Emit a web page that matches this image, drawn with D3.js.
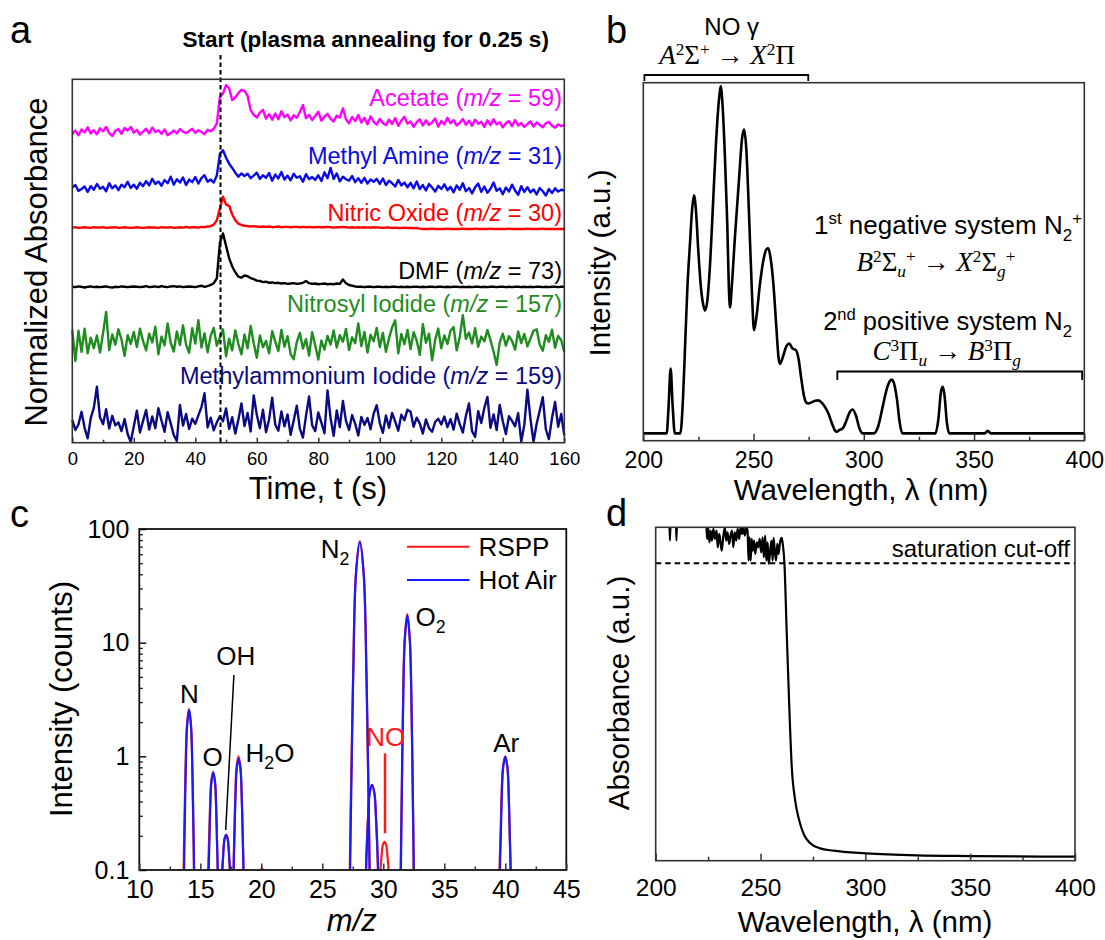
<!DOCTYPE html>
<html>
<head>
<meta charset="utf-8">
<script src="https://cdn.jsdelivr.net/npm/d3@7"></script>
<style>
  body { margin: 0; background: #fff; }
  svg { display: block; }
</style>
</head>
<body>
<svg id="fig" width="1105" height="940"></svg>
<script>
// ---------------- Panel a: time traces (one value per second, 0-160 s) ----------------
const traceNames = ["Acetate", "Methyl Amine", "Nitric Oxide", "DMF", "Nitrosyl Iodide", "Methylammonium Iodide"];
const traceMz = [59, 31, 30, 73, 157, 159];
const traceColors = ["#ff00ff", "#0a0ae6", "#ff0000", "#000000", "#1e8c1e", "#0a0a82"];

const acetate = [
  85.0, 85.9, 84.6, 86.2, 85.4, 86.8, 85.1, 86.0, 84.9, 86.5,
  85.7, 86.9, 85.2, 84.4, 85.8, 86.3, 85.0, 86.6, 85.9, 86.9,
  85.3, 86.1, 84.8, 85.6, 86.4, 85.1, 86.7, 85.5, 86.0, 85.0,
  86.2, 84.6, 85.2, 85.9, 85.1, 86.3, 85.6, 85.2, 85.8, 86.4,
  85.3, 86.0, 85.5, 84.9, 86.1, 85.7, 86.4, 87.8, 95.2, 96.1,
  98.4, 97.5, 94.3, 95.0, 96.2, 97.1, 96.8, 95.5, 91.5, 90.2,
  89.5, 90.8, 91.6, 89.2, 90.4, 88.9, 90.6, 89.0, 91.2, 89.6,
  90.3, 88.7, 90.1, 89.4, 91.0, 92.9, 89.3, 90.2, 88.8, 89.9,
  91.1, 88.6, 89.7, 90.5, 89.1, 88.4, 90.0, 89.5, 92.0, 89.0,
  87.9, 89.6, 88.5, 90.2, 88.1, 89.4, 87.6, 89.8, 88.3, 87.5,
  89.1, 88.0, 87.4, 88.9, 87.7, 89.3, 87.2, 88.6, 89.7, 87.8,
  88.4, 86.9, 88.2, 89.0, 87.3, 88.7, 87.5, 88.1, 89.2, 87.0,
  88.5, 87.6, 89.4, 87.9, 88.8, 87.3, 88.0, 89.1, 87.5, 88.6,
  87.2, 88.9, 87.8, 88.3, 86.9, 88.7, 87.4, 89.0, 87.6, 88.2,
  86.8, 87.9, 88.5, 87.1, 88.8, 87.3, 88.0, 86.9, 87.7, 88.4,
  87.0, 88.1, 87.5, 86.8, 87.9, 88.3, 87.2, 86.7, 87.6, 87.1,
  87.4
];
const methylAmine = [
  70.2, 70.9, 69.3, 69.8, 70.5, 69.0, 70.6, 69.6, 71.2, 69.9,
  70.4, 69.2, 71.4, 70.0, 70.8, 69.5, 71.0, 70.3, 71.8, 70.1,
  71.0, 69.9, 71.5, 70.6, 72.0, 70.8, 72.6, 71.2, 71.9, 70.7,
  72.3, 71.4, 73.2, 71.0, 72.5, 71.6, 73.0, 70.9, 72.4, 71.7,
  73.1, 71.3, 72.8, 73.6, 71.8, 72.4, 71.6, 73.5, 79.5, 80.5,
  78.4, 76.8, 75.6, 74.3, 73.2, 74.1, 73.4, 74.0, 72.8, 73.5,
  74.3, 72.6, 73.6, 72.9, 74.2, 72.1, 73.8, 72.7, 74.5, 72.4,
  73.5, 72.2, 74.0, 72.9, 73.3, 71.8, 73.9, 72.5, 73.1, 72.3,
  73.6, 72.0, 74.4, 72.8, 75.6, 72.6, 74.1, 71.9, 73.2, 72.5,
  72.1, 73.4, 71.7, 72.8, 71.5, 72.9, 71.3, 72.4, 71.8, 72.6,
  71.2, 72.7, 70.9, 72.1, 71.4, 70.5, 72.3, 70.8, 71.6, 70.3,
  71.5, 70.0, 71.9, 69.8, 70.9, 69.4, 71.2, 70.2, 69.1, 70.7,
  69.8, 71.1, 69.5, 70.4, 68.9, 70.8, 69.6, 71.4, 69.2, 70.1,
  68.6, 70.3, 71.3, 69.0, 70.5, 68.8, 69.9, 71.6, 69.3, 70.0,
  68.4, 70.2, 69.1, 71.0, 69.4, 68.2, 70.6, 69.0, 70.3, 68.9,
  69.7, 68.3, 70.1, 69.2, 68.0, 69.8, 68.7, 70.0, 69.1, 69.6,
  69.4
];
const nitricOxide = [
  59.2, 59.3, 59.1, 59.2, 59.3, 59.2, 59.1, 59.3, 59.2, 59.2,
  59.3, 59.1, 59.2, 59.2, 59.3, 59.1, 59.2, 59.3, 59.2, 59.1,
  59.2, 59.3, 59.2, 59.1, 59.2, 59.3, 59.2, 59.2, 59.1, 59.3,
  59.2, 59.2, 59.3, 59.1, 59.2, 59.3, 59.2, 59.4, 59.2, 59.3,
  59.3, 59.2, 59.4, 59.3, 59.5, 59.6, 60.0, 61.2, 64.5, 67.7,
  65.5, 65.2, 62.8, 61.2, 60.3, 59.9, 59.7, 59.6, 59.5, 59.6,
  59.5, 59.4, 59.5, 59.4, 59.5, 59.3, 59.4, 59.5, 59.3, 59.4,
  59.4, 59.3, 59.4, 59.4, 59.3, 59.4, 59.3, 59.4, 59.3, 59.3,
  59.4, 59.3, 59.3, 59.4, 59.3, 59.2, 59.3, 59.3, 59.4, 59.3,
  59.2, 59.3, 59.2, 59.3, 59.2, 59.3, 59.2, 59.2, 59.3, 59.2,
  59.2, 59.1, 59.2, 59.2, 59.1, 59.2, 59.1, 59.1, 59.2, 59.1,
  59.1, 59.0, 59.1, 58.9, 58.8, 58.8, 58.8, 58.9, 58.8, 58.8,
  58.8, 58.8, 58.9, 58.8, 58.8, 58.8, 58.8, 58.9, 58.8, 58.8,
  58.8, 58.9, 58.8, 58.8, 58.8, 58.8, 58.9, 58.8, 58.8, 58.8,
  58.8, 58.8, 58.9, 58.8, 58.8, 58.8, 58.8, 58.8, 58.9, 58.8,
  58.8, 58.8, 58.8, 58.9, 58.8, 58.8, 58.8, 58.8, 58.8, 58.8,
  58.8
];
const dmf = [
  42.9, 42.8, 43.0, 42.9, 42.7, 42.9, 43.0, 42.8, 42.9, 42.8,
  42.9, 43.0, 42.8, 42.7, 42.9, 42.8, 43.0, 42.9, 42.8, 42.9,
  43.0, 42.9, 42.8, 42.9, 43.1, 42.8, 42.9, 43.0, 42.8, 43.1,
  42.9, 42.8, 43.0, 43.1, 42.9, 43.0, 42.8, 42.9, 43.0, 42.9,
  42.8, 43.0, 43.2, 42.9, 43.1, 43.4, 43.9, 45.2, 55.0, 57.6,
  54.2, 50.8, 48.5, 46.9, 45.7, 45.4, 46.0, 45.8, 45.3, 45.0,
  44.6, 44.5, 44.2, 44.3, 44.0, 44.1, 43.9, 44.0, 43.8, 43.9,
  43.7, 43.8, 43.9, 43.7, 43.8, 44.0, 44.5, 43.9, 43.7, 43.8,
  43.6, 43.7, 43.8, 43.6, 43.7, 43.6, 43.8, 43.7, 44.9, 43.9,
  43.4, 43.2, 43.0, 42.9, 42.9, 42.8, 42.9, 42.9, 42.8, 42.9,
  42.9, 42.8, 42.9, 42.8, 42.9, 42.9, 42.8, 42.9, 42.8, 42.9,
  42.8, 42.9, 42.9, 42.8, 42.9, 42.8, 42.9, 42.9, 42.8, 42.9,
  42.9, 42.8, 42.9, 42.8, 42.9, 42.9, 42.8, 42.9, 42.8, 42.9,
  42.8, 42.9, 42.9, 42.8, 42.9, 42.8, 42.9, 42.9, 42.8, 42.9,
  42.9, 42.8, 42.9, 42.8, 42.9, 42.9, 42.8, 42.9, 42.8, 42.9,
  42.8, 42.9, 42.9, 42.8, 42.9, 42.8, 42.9, 42.9, 42.8, 42.9,
  42.9
];
const nitrosylIodide = [
  31.0, 22.5, 30.8, 25.0, 31.4, 24.6, 28.9, 26.0, 29.5, 24.8,
  30.2, 36.0, 25.5, 29.8, 27.0, 31.2, 28.4, 23.9, 29.6, 27.2,
  30.5, 26.3, 31.4, 28.0, 25.4, 30.0, 27.6, 31.9, 24.3, 29.2,
  26.8, 32.8, 27.5, 25.1, 30.6, 26.9, 32.3, 27.0, 24.7, 31.5,
  27.3, 33.7, 26.2, 30.1, 24.9, 29.4, 31.6, 26.7, 29.0, 31.2,
  23.8, 28.6, 25.4, 30.9, 27.2, 24.3, 29.8, 26.0, 32.1, 27.4,
  23.4, 29.5, 26.3, 28.0, 24.6, 30.7, 27.8, 25.2, 31.0, 26.4,
  29.3, 24.4, 23.0, 27.7, 30.2, 25.9, 28.5, 24.0, 30.4, 26.8,
  22.9, 28.1, 25.6, 29.4, 27.0, 30.9, 26.2, 29.6, 27.8, 31.3,
  25.5, 29.0, 27.4, 32.8, 26.6, 30.5, 24.8, 29.7, 27.9, 31.6,
  26.3, 30.2, 25.0, 28.8, 31.7, 33.7, 24.6, 29.9, 27.1, 31.0,
  25.8, 30.4, 28.1, 24.2, 32.6, 27.5, 30.0, 22.7, 28.3, 31.4,
  26.0, 29.5, 27.2, 30.8, 31.8, 25.4, 29.1, 35.1, 28.6, 30.3,
  27.3, 31.5, 26.4, 29.2, 27.9, 31.0, 28.2, 25.1, 21.4, 27.6,
  30.0, 26.7, 29.3, 28.0, 25.6, 30.6, 27.4, 29.9, 26.5, 28.7,
  30.8, 31.2, 27.0, 25.3, 29.6, 27.8, 31.1, 26.1, 29.4, 28.2,
  24.9
];
const methylammoniumIodide = [
  6.2, 3.5, 5.0, 8.5, 4.1, 1.2, 6.8, 9.6, 15.4, 7.0,
  5.1, 9.2, 3.9, 7.4, 4.8, 5.6, 3.2, 6.5, 2.4, 0.2,
  4.5, 8.8, 2.8, 6.0, 9.0, 3.6, 7.2, 4.0, 9.5, 6.1,
  3.0, 8.4, 5.3, 2.1, 0.5, 10.4, 4.7, 7.9, 3.8, 6.6,
  5.2, 7.5, 9.8, 13.6, 4.2, 6.9, 3.4, 5.6, 7.3, 5.9,
  9.4, 3.8, 7.0, 2.5, 6.3, 10.8, 4.6, 8.2, 3.1, 13.0,
  7.7, 4.0, 9.1, 2.9, 6.4, 12.4, 5.0, 3.3, 8.6, 4.5,
  7.8, 2.2, 6.1, 10.2, 3.9, 1.4, 7.4, 12.7, 4.8, 3.2,
  8.3, 5.5, 2.6, 14.4, 6.7, 1.9, 8.9, 4.3, 11.5, 6.0,
  3.5, 7.6, 5.2, 2.0, 7.1, 4.9, 6.8, 3.7, 8.0, 10.3,
  5.4, 2.7, 7.5, 4.1, 8.2, 5.8, 3.3, 7.7, 6.2, 9.1,
  8.5, 4.4, 6.9, 5.3, 2.5, 6.4, 4.0, 3.0, 5.7, 6.6,
  5.0, 7.2, 4.3, 6.5, 3.6, 8.0, 5.1, 2.8, 7.4, 10.8,
  3.2, 1.6, 8.7, 5.4, 9.6, 12.6, 4.1, 7.8, 3.5, 10.4,
  5.9, 2.4, 7.3, 6.0, 4.5, 8.1, 0.3, 4.9, 14.6, 6.5,
  0.2, 5.2, 8.8, 12.5, 3.7, 1.0, 6.8, 11.2, 4.4, 7.9,
  2.0
];
const traces = [acetate, methylAmine, nitricOxide, dmf, nitrosylIodide, methylammoniumIodide];
const timeTicks = [0, 20, 40, 60, 80, 100, 120, 140, 160];
const timeMinorTicks = [10, 30, 50, 70, 90, 110, 130, 150];
const startTime = 48.2;

// ---------------- Panel b: emission spectrum ----------------
const emWavelength = [200, 210.6, 211.4, 212.4, 213.3, 214.3, 216.8, 218, 219, 220, 221.2, 222.2, 223, 223.9, 224.9, 226, 227.2, 228,
  229, 230.2, 231.7, 233, 234.3, 235.1, 235.9, 237, 238.1, 238.8, 239.3, 240.2, 241.5, 243.5, 244.8, 245.7, 246.7, 247.9, 249.3, 250.2,
  251.2, 252.9, 254.5, 255.8, 256.7, 257.6, 259, 260.4, 261.3, 262, 263.3, 264.8, 266.2, 267.6, 269.2, 270.4, 271.6, 272.8, 273.8, 274.8,
  276.5, 278, 279.4, 281, 282.5, 283.9, 285.5, 287, 287.7, 289, 290.5, 292, 293.5, 295, 296.5, 298, 299.5, 304.5, 306.5, 308.5,
  310.5, 312, 312.6, 313.5, 315, 316.3, 317.5, 332.5, 333.8, 335, 335.8, 336.6, 337.7, 338.8, 354.8, 356.2, 357.6, 400];
const emIntensity = [0, 0, 0.07, 0.187, 0.08, 0, 0, 0.1, 0.26, 0.42, 0.55, 0.65, 0.686, 0.64, 0.53, 0.43, 0.37, 0.354,
  0.38, 0.48, 0.672, 0.84, 0.96, 1.0, 0.95, 0.8, 0.6, 0.42, 0.363, 0.43, 0.56, 0.74, 0.85, 0.875, 0.82, 0.64, 0.4, 0.297,
  0.33, 0.43, 0.5, 0.53, 0.533, 0.51, 0.43, 0.3, 0.22, 0.2, 0.22, 0.25, 0.259, 0.245, 0.24, 0.215, 0.16, 0.11, 0.09, 0.086,
  0.09, 0.094, 0.095, 0.088, 0.075, 0.058, 0.03, 0.008, 0.005, 0.01, 0.015, 0.035, 0.06, 0.069, 0.05, 0.015, 0, 0, 0.02, 0.075,
  0.13, 0.152, 0.155, 0.148, 0.1, 0.03, 0, 0, 0.04, 0.12, 0.134, 0.11, 0.03, 0, 0, 0.0075, 0, 0];
const wlTicks = [200, 250, 300, 350, 400];
const wlMinorTicks = [225, 275, 325, 375];

// ---------------- Panel c: mass spectra, one point list per peak ----------------
const hotAirPeaks = [
  [[13.65, 0.016], [13.67, 0.1], [13.73, 0.26], [13.80, 0.70], [13.92, 1.85], [14.08, 2.56], [14.24, 1.85], [14.36, 0.70], [14.43, 0.26], [14.49, 0.1], [14.51, 0.016]],
  [[15.67, 0.016], [15.69, 0.1], [15.75, 0.18], [15.81, 0.33], [15.91, 0.59], [16.06, 0.72], [16.21, 0.59], [16.31, 0.33], [16.37, 0.18], [16.43, 0.1], [16.45, 0.016]],
  [[16.80, 0.016], [16.81, 0.1], [16.86, 0.124], [16.91, 0.153], [17.00, 0.189], [17.12, 0.203], [17.24, 0.189], [17.33, 0.153], [17.38, 0.124], [17.43, 0.1], [17.44, 0.016]],
  [[17.72, 0.016], [17.74, 0.1], [17.80, 0.2], [17.87, 0.39], [17.98, 0.76], [18.14, 0.95], [18.30, 0.76], [18.41, 0.39], [18.48, 0.2], [18.54, 0.1], [18.56, 0.016]],
  [[27.25, 0.016], [27.28, 0.1], [27.40, 0.73], [27.54, 5.4], [27.76, 39.6], [28.08, 77], [28.40, 39.6], [28.62, 5.4], [28.76, 0.73], [28.88, 0.1], [28.91, 0.016]],
  [[28.57, 0.016], [28.59, 0.1], [28.66, 0.17], [28.75, 0.28], [28.88, 0.47], [29.08, 0.56], [29.28, 0.47], [29.41, 0.28], [29.50, 0.17], [29.57, 0.1], [29.59, 0.016]],
  [[31.42, 0.016], [31.44, 0.1], [31.52, 0.47], [31.61, 2.2], [31.76, 10.4], [31.97, 17.5], [32.18, 10.4], [32.33, 2.2], [32.42, 0.47], [32.50, 0.1], [32.52, 0.016]],
  [[39.54, 0.016], [39.56, 0.1], [39.63, 0.2], [39.70, 0.4], [39.82, 0.79], [40.00, 0.99], [40.18, 0.79], [40.30, 0.4], [40.37, 0.2], [40.44, 0.1], [40.46, 0.016]]
];
const rsppPeaks = [
  [[13.61, 0.016], [13.63, 0.1], [13.70, 0.27], [13.78, 0.72], [13.91, 1.9], [14.07, 2.6], [14.23, 1.9], [14.35, 0.72], [14.42, 0.27], [14.48, 0.1], [14.50, 0.016]],
  [[15.63, 0.016], [15.65, 0.1], [15.72, 0.19], [15.79, 0.34], [15.90, 0.6], [16.05, 0.73], [16.20, 0.6], [16.30, 0.34], [16.36, 0.19], [16.42, 0.1], [16.44, 0.016]],
  [[16.79, 0.016], [16.80, 0.1], [16.85, 0.125], [16.90, 0.155], [16.99, 0.19], [17.11, 0.205], [17.23, 0.19], [17.32, 0.155], [17.37, 0.125], [17.42, 0.1], [17.43, 0.016]],
  [[17.70, 0.016], [17.72, 0.1], [17.79, 0.21], [17.86, 0.41], [17.97, 0.8], [18.13, 1.0], [18.29, 0.8], [18.40, 0.41], [18.47, 0.21], [18.53, 0.1], [18.55, 0.016]],
  [[19.98, 0.016], [20.0, 0.1], [20.06, 0.104], [20.12, 0.1], [20.14, 0.016]],
  [[27.22, 0.016], [27.25, 0.1], [27.38, 0.75], [27.53, 5.5], [27.75, 40], [28.07, 78], [28.39, 40], [28.61, 5.5], [28.75, 0.75], [28.87, 0.1], [28.90, 0.016]],
  [[28.56, 0.016], [28.58, 0.1], [28.65, 0.17], [28.74, 0.28], [28.87, 0.47], [29.07, 0.56], [29.27, 0.47], [29.40, 0.28], [29.49, 0.17], [29.56, 0.1], [29.58, 0.016]],
  [[29.76, 0.016], [29.77, 0.1], [29.82, 0.119], [29.88, 0.141], [29.97, 0.167], [30.10, 0.177], [30.23, 0.167], [30.32, 0.141], [30.38, 0.119], [30.43, 0.1], [30.44, 0.016]],
  [[31.40, 0.016], [31.42, 0.1], [31.51, 0.48], [31.60, 2.25], [31.75, 10.6], [31.96, 17.8], [32.17, 10.6], [32.32, 2.25], [32.41, 0.48], [32.49, 0.1], [32.51, 0.016]],
  [[39.51, 0.016], [39.53, 0.1], [39.61, 0.2], [39.68, 0.4], [39.81, 0.8], [39.99, 1.0], [40.17, 0.8], [40.29, 0.4], [40.36, 0.2], [40.43, 0.1], [40.45, 0.016]]
];
const mzTicks = [10, 15, 20, 25, 30, 35, 40, 45];
const mzMinorTicks = [12.5, 17.5, 22.5, 27.5, 32.5, 37.5, 42.5];
const countTicks = [0.1, 1, 10, 100];
const countMinorTicks = [0.2, 0.3, 0.4, 0.5, 0.6, 0.7, 0.8, 0.9, 2, 3, 4, 5, 6, 7, 8, 9, 20, 30, 40, 50, 60, 70, 80, 90];
const legendNames = ["RSPP", "Hot Air"];
const legendColors = ["#ff1a1a", "#1a1aff"];

// ---------------- Panel d: absorbance spectrum ----------------
const absWavelength = [200, 203, 206.3, 206.8, 207.3, 209.4, 209.9, 210.4, 213, 217, 221, 224, 224.5, 225, 225.6, 226.2, 226.8, 227.5,
  228.2, 229, 229.6, 230.3, 231, 231.5, 232.2, 233, 233.6, 234.3, 235, 235.7, 236.4, 237, 237.7, 238.4, 239.1, 239.8, 240.5, 241.2,
  241.8, 242.5, 243.2, 243.8, 244.3, 244.8, 245.3, 245.8, 246.3, 246.9, 247.5, 248.2, 248.9, 249.6, 250.3, 251, 251.6, 252.2, 252.8,
  253.4, 253.9, 254.5, 255.2, 255.8, 256.2, 256.8, 257.4, 258, 258.6, 259.3, 260.1, 260.6, 261.4, 262.5, 263.6, 264.9, 266.5, 268.4,
  270.8, 273.6, 278.4, 284.7, 300.2, 324.5, 350, 400];
const absValue = [1.08, 1.12, 1.06, 0.96, 1.06, 1.07, 0.96, 1.07, 1.1, 1.12, 1.08, 1.03, 0.965, 1.0, 0.955, 0.99, 0.96, 0.995,
  0.965, 0.99, 0.94, 0.98, 0.95, 0.93, 0.97, 1.0, 0.96, 0.985, 0.95, 0.975, 0.99, 0.94, 0.985, 0.96, 0.995, 0.965, 1.0, 0.98,
  1.0, 0.975, 1.0, 0.99, 0.9, 0.97, 0.9, 0.965, 0.93, 0.96, 0.92, 0.955, 0.94, 0.965, 0.925, 0.97, 0.91, 0.975, 0.9,
  0.955, 0.89, 0.92, 0.96, 0.9, 0.968, 0.93, 0.9, 0.95, 0.92, 0.955, 0.968, 0.95, 0.892, 0.683, 0.482, 0.281, 0.182, 0.122,
  0.077, 0.053, 0.037, 0.030, 0.022, 0.016, 0.014, 0.012];
const saturationLevel = 0.892;

// ---------------- drawing ----------------
const SANS = '"Liberation Sans", Arial, Helvetica, sans-serif';
const SERIF = '"Liberation Serif", "DejaVu Serif", "Times New Roman", serif';
const FRAME = "#333";
const svg = d3.select("#fig");

// Text made of plain, italic, sub- and superscript runs.
function rich(g, x, y, parts, o) {
  const size = o.size;
  const subShift = o.subShift ?? 0.28, supShift = o.supShift ?? 0.4, small = o.small ?? 0.65;
  let tr = `translate(${x},${y})`;
  if (o.rotate) tr += ` rotate(${o.rotate})`;
  const t = g.append("text").attr("transform", tr)
    .attr("font-size", size).attr("font-family", o.family || SANS)
    .attr("text-anchor", o.anchor || "start").attr("fill", o.fill || "#000");
  if (o.weight) t.attr("font-weight", o.weight);
  let cur = 0;
  parts.forEach(p => {
    if (typeof p === "string") p = { t: p };
    const shift = p.sub ? subShift * size : p.sup ? -supShift * size : 0;
    const ts = t.append("tspan").text(p.t);
    if (shift - cur !== 0) ts.attr("dy", shift - cur);
    cur = shift;
    if (p.sub || p.sup) ts.attr("font-size", size * (p.scale || small));
    if (p.italic) ts.attr("font-style", "italic");
    if (p.fill) ts.attr("fill", p.fill);
    if (p.family) ts.attr("font-family", p.family);
    if (p.dx) ts.attr("dx", p.dx);
  });
  return t;
}

function frame(g, x0, y0, x1, y1) {
  g.append("rect").attr("x", x0).attr("y", y0).attr("width", x1 - x0).attr("height", y1 - y0)
    .attr("fill", "none").attr("stroke", FRAME).attr("stroke-width", 1.6);
}

function bottomTicks(g, scale, y, majors, minors, majLen, minLen, fontSize, labelBase, fmt) {
  const ax = d3.axisBottom(scale).tickValues(majors).tickSizeInner(-majLen).tickSizeOuter(0);
  if (fmt) ax.tickFormat(fmt);
  const ag = g.append("g").attr("transform", `translate(0,${y})`).call(ax);
  ag.select(".domain").remove();
  ag.selectAll("line").attr("stroke", FRAME).attr("stroke-width", 1.5);
  ag.selectAll("text").attr("y", labelBase).attr("dy", null)
    .attr("font-size", fontSize).attr("font-family", SANS).attr("fill", "#000");
  const mg = g.append("g").attr("transform", `translate(0,${y})`)
    .call(d3.axisBottom(scale).tickValues(minors).tickSizeInner(-minLen).tickSizeOuter(0).tickFormat(""));
  mg.select(".domain").remove();
  mg.selectAll("line").attr("stroke", FRAME).attr("stroke-width", 1.5);
}

// ===== Panel a =====
{
  const g = svg.append("g");
  const x = d3.scaleLinear().domain([0, 160]).range([72.3, 564.3]);
  const y = d3.scaleLinear().domain([0, 100]).range([442.7, 79.3]);
  const line = d3.line().x((d, i) => x(i)).y(d => y(d)).curve(d3.curveLinear);
  traces.forEach((vals, k) => {
    g.append("path").datum(vals).attr("d", line).attr("fill", "none")
      .attr("stroke", traceColors[k]).attr("stroke-width", 2.4).attr("stroke-linejoin", "round");
  });
  const labelBase = [106, 164, 221, 279, 312, 384];
  traces.forEach((vals, k) => {
    rich(g, 562, labelBase[k], [traceNames[k] + " (", { t: "m/z", italic: true }, " = " + traceMz[k] + ")"],
      { size: 23.5, anchor: "end", fill: traceColors[k] });
  });
  g.append("line").attr("x1", x(startTime)).attr("x2", x(startTime)).attr("y1", 55).attr("y2", 442.7)
    .attr("stroke", "#000").attr("stroke-width", 2).attr("stroke-dasharray", "4.5,3");
  frame(g, 72.3, 79.3, 564.3, 442.7);
  bottomTicks(g, x, 442.7, timeTicks, timeMinorTicks, 5, 3, 18.5, 22);
  rich(g, 318, 499, ["Time, t (s)"], { size: 31, anchor: "middle" });
  rich(g, 47, 262, ["Normalized Absorbance"], { size: 31, anchor: "middle", rotate: -90 });
  rich(g, 365.7, 47, ["Start (plasma annealing for 0.25 s)"], { size: 22.5, anchor: "middle", weight: "bold" });
  rich(g, 10, 43, ["a"], { size: 38 });
}

// ===== Panel b =====
{
  const g = svg.append("g");
  const x = d3.scaleLinear().domain([200, 400]).range([643.3, 1084.3]);
  const y = d3.scaleLinear().domain([-0.021, 1.01]).range([440.7, 82.7]);
  const line = d3.line().x(d => x(d[0])).y(d => y(d[1])).curve(d3.curveMonotoneX);
  g.append("path").datum(d3.zip(emWavelength, emIntensity)).attr("d", line).attr("fill", "none")
    .attr("stroke", "#000").attr("stroke-width", 2.6).attr("stroke-linejoin", "round");
  frame(g, 643.3, 82.7, 1084.3, 440.7);
  bottomTicks(g, x, 440.7, wlTicks, wlMinorTicks, 7, 4, 23, 27);
  rich(g, 861, 500, ["Wavelength, λ (nm)"], { size: 29.5, anchor: "middle" });
  rich(g, 610, 263, ["Intensity (a.u.)"], { size: 29.5, anchor: "middle", rotate: -90 });
  rich(g, 606, 43, ["b"], { size: 38 });

  // band brackets
  const bracket = (x0, x1, yy, leg) => g.append("path")
    .attr("d", `M${x(x0)},${yy + leg}V${yy}H${x(x1)}V${yy + leg}`)
    .attr("fill", "none").attr("stroke", "#000").attr("stroke-width", 1.8);
  bracket(200.5, 274.8, 75, 6);
  bracket(288, 399, 371.5, 8.5);

  const mathOpts = { anchor: "middle", family: SERIF, supShift: 0.34, subShift: 0.22, small: 0.64 };
  rich(g, 731.7, 35, ["NO γ"], { size: 24, anchor: "middle" });
  rich(g, 727, 64, [{ t: "A", italic: true }, { t: "2", sup: true }, "Σ", { t: "+", sup: true }, "  →  ",
    { t: "X", italic: true }, { t: "2", sup: true }, "Π"], Object.assign({ size: 27 }, mathOpts));
  rich(g, 1082, 234, ["1", { t: "st", sup: true }, " negative system N", { t: "2", sub: true },
    { t: "+", sup: true }], { size: 26, anchor: "end" });
  rich(g, 936, 271, [{ t: "B", italic: true }, { t: "2", sup: true }, "Σ", { t: "u", sub: true, italic: true },
    { t: "+", sup: true }, "  →  ", { t: "X", italic: true }, { t: "2", sup: true }, "Σ",
    { t: "g", sub: true, italic: true }, { t: "+", sup: true }], Object.assign({ size: 27 }, mathOpts));
  rich(g, 947.5, 330, ["2", { t: "nd", sup: true }, " positive system N", { t: "2", sub: true }], { size: 25.5, anchor: "middle" });
  rich(g, 946.7, 360, [{ t: "C", italic: true }, { t: "3", sup: true }, "Π", { t: "u", sub: true, italic: true },
    "  →  ", { t: "B", italic: true }, { t: "3", sup: true }, "Π", { t: "g", sub: true, italic: true }],
    Object.assign({ size: 27 }, mathOpts));
}

// ===== Panel c =====
{
  const g = svg.append("g");
  const x = d3.scaleLinear().domain([10, 45]).range([139.3, 566.3]);
  const y = d3.scaleLog().domain([0.1, 100]).range([870, 529]);
  svg.append("defs").append("clipPath").attr("id", "clipC").append("rect")
    .attr("x", 139.3).attr("y", 529).attr("width", 427).attr("height", 341);
  const line = d3.line().x(d => x(d[0])).y(d => y(d[1])).curve(d3.curveCatmullRom.alpha(0.5));
  const pg = g.append("g").attr("clip-path", "url(#clipC)");
  rsppPeaks.forEach(pk => pg.append("path").datum(pk).attr("d", line).attr("fill", "none")
    .attr("stroke", legendColors[0]).attr("stroke-width", 2.2));
  hotAirPeaks.forEach(pk => pg.append("path").datum(pk).attr("d", line).attr("fill", "none")
    .attr("stroke", legendColors[1]).attr("stroke-width", 2.2));

  g.append("rect").attr("x", 139.3).attr("y", 529).attr("width", 427).attr("height", 341)
    .attr("fill", "none").attr("stroke", "#111").attr("stroke-width", 1.8);
  bottomTicks(g, x, 870, mzTicks, mzMinorTicks, 6.5, 3.5, 25, 28);
  const yl = g.append("g").attr("transform", "translate(139.3,0)")
    .call(d3.axisLeft(y).tickValues(countTicks).tickSizeInner(-7).tickSizeOuter(0).tickFormat(d => String(d)));
  yl.select(".domain").remove();
  yl.selectAll("line").attr("stroke", "#111").attr("stroke-width", 1.5);
  yl.selectAll("text").attr("x", -10).attr("font-size", 25).attr("font-family", SANS).attr("fill", "#000");
  const ym = g.append("g").attr("transform", "translate(139.3,0)")
    .call(d3.axisLeft(y).tickValues(countMinorTicks).tickSizeInner(-3.5).tickSizeOuter(0).tickFormat(""));
  ym.select(".domain").remove();
  ym.selectAll("line").attr("stroke", "#111").attr("stroke-width", 1.3);

  rich(g, 351.8, 931, [{ t: "m/z", italic: true }], { size: 31, anchor: "middle" });
  rich(g, 72, 699, ["Intensity (counts)"], { size: 31, anchor: "middle", rotate: -90 });
  rich(g, 10, 527, ["c"], { size: 38 });

  // legend
  legendNames.forEach((nm, i) => {
    const ly = 546.7 + i * 33.3;
    g.append("line").attr("x1", 407).attr("x2", 469.6).attr("y1", ly).attr("y2", ly)
      .attr("stroke", legendColors[i]).attr("stroke-width", 2);
    rich(g, 478.6, ly + 9.3, [nm], { size: 26 });
  });

  // peak labels
  rich(g, 189.3, 703, ["N"], { size: 26, anchor: "middle" });
  rich(g, 212.5, 766, ["O"], { size: 26, anchor: "middle" });
  rich(g, 235.7, 665, ["OH"], { size: 26, anchor: "middle" });
  rich(g, 245.5, 761.5, ["H", { t: "2", sub: true, scale: 0.68 }, "O"], { size: 26 });
  rich(g, 320.8, 558, ["N", { t: "2", sub: true, scale: 0.68 }], { size: 26 });
  rich(g, 415.5, 626, ["O", { t: "2", sub: true, scale: 0.68 }], { size: 26 });
  rich(g, 385.7, 746, ["NO"], { size: 26, anchor: "middle", fill: "#ff1a1a" });
  rich(g, 506.2, 751.5, ["Ar"], { size: 26, anchor: "middle" });
  g.append("line").attr("x1", 233.9).attr("y1", 675).attr("x2", 225.7).attr("y2", 830)
    .attr("stroke", "#000").attr("stroke-width", 1.5);
  g.append("line").attr("x1", 385).attr("y1", 753.3).attr("x2", 385).attr("y2", 833.3)
    .attr("stroke", "#ff1a1a").attr("stroke-width", 2.5);
}

// ===== Panel d =====
{
  const g = svg.append("g");
  const x = d3.scaleLinear().domain([200, 400]).range([655.7, 1075]);
  const y = d3.scaleLinear().domain([0, 1]).range([860.7, 527.3]);
  svg.select("defs").append("clipPath").attr("id", "clipD").append("rect")
    .attr("x", 655.7).attr("y", 527.3).attr("width", 419.3).attr("height", 333.4);
  const line = d3.line().x(d => x(d[0])).y(d => y(d[1])).curve(d3.curveMonotoneX);
  g.append("path").datum(d3.zip(absWavelength, absValue)).attr("d", line).attr("fill", "none")
    .attr("clip-path", "url(#clipD)").attr("stroke", "#000").attr("stroke-width", 2.2).attr("stroke-linejoin", "round");
  g.append("line").attr("x1", 655.7).attr("x2", 1075).attr("y1", y(saturationLevel)).attr("y2", y(saturationLevel))
    .attr("stroke", "#000").attr("stroke-width", 2).attr("stroke-dasharray", "5.5,4");
  rich(g, 1070, 557, ["saturation cut-off"], { size: 24, anchor: "end" });
  frame(g, 655.7, 527.3, 1075, 860.7);
  bottomTicks(g, x, 860.7, wlTicks, wlMinorTicks, 7, 4, 24.5, 35);
  rich(g, 865, 931.5, ["Wavelength, λ (nm)"], { size: 29.5, anchor: "middle" });
  rich(g, 629, 693, ["Absorbance (a.u.)"], { size: 29.5, anchor: "middle", rotate: -90 });
  rich(g, 606, 526, ["d"], { size: 38 });
}
</script>
</body>
</html>
